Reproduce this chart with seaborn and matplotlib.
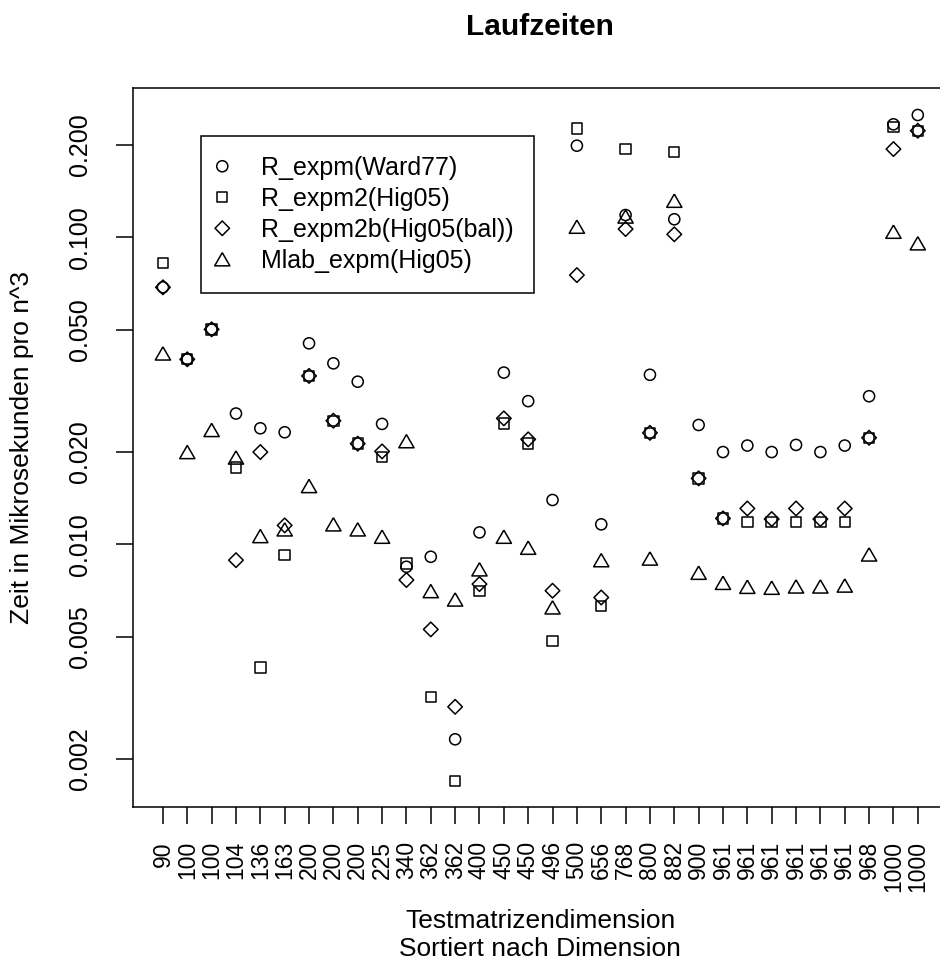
import matplotlib
matplotlib.use('Agg')
import matplotlib.pyplot as plt
import seaborn as sb
import numpy as np
from matplotlib.ticker import NullLocator

# test matrix dimensions (sorted), used as x tick labels
dims = ['90', '100', '100', '104', '136', '163', '200', '200', '200', '225',
        '340', '362', '362', '400', '450', '450', '496', '500', '656', '768',
        '800', '882', '900', '961', '961', '961', '961', '961', '961', '968',
        '1000', '1000']

# run times in microseconds per n^3
r_expm = [0.0688, 0.0401, 0.0502, 0.0267, 0.0239, 0.0232, 0.0452, 0.0389,
          0.0339, 0.0247, 0.00846, 0.00912, 0.00232, 0.01095, 0.0363, 0.0293,
          0.01396, 0.199, 0.01163, 0.1183, 0.0357, 0.1146, 0.0245, 0.0200,
          0.0210, 0.0200, 0.0211, 0.0200, 0.0210, 0.0304, 0.2336, 0.2505]
r_expm2 = [0.0827, 0.0401, 0.0502, 0.0178, 0.00398, 0.00924, 0.0354, 0.0253,
           0.0213, 0.0193, 0.00868, 0.00318, 0.0017, 0.00705, 0.0248, 0.0213,
           0.00485, 0.2267, 0.0063, 0.1937, 0.0231, 0.1902, 0.01642, 0.01216,
           0.01186, 0.01186, 0.01186, 0.01186, 0.01186, 0.02226, 0.2294, 0.2226]
r_expm2b = [0.0688, 0.0401, 0.0502, 0.00889, 0.0200, 0.01154, 0.0354, 0.0253,
            0.0213, 0.0201, 0.00766, 0.00529, 0.00296, 0.00743, 0.02575, 0.0220,
            0.00707, 0.0754, 0.00672, 0.1065, 0.0231, 0.1024, 0.01642, 0.01216,
            0.0131, 0.0121, 0.0131, 0.0121, 0.0131, 0.02226, 0.194, 0.2226]
mlab_expm = [0.0419, 0.0200, 0.0236, 0.0192, 0.01065, 0.0112, 0.0155, 0.01163,
             0.0112, 0.0106, 0.0217, 0.00705, 0.00662, 0.0083, 0.0106, 0.00976,
             0.00624, 0.1084, 0.00889, 0.117, 0.0090, 0.1317, 0.00809, 0.0075,
             0.00728, 0.00723, 0.0073, 0.0073, 0.00735, 0.00928, 0.1044, 0.0957]

labels = ['R_expm(Ward77)', 'R_expm2(Hig05)', 'R_expm2b(Hig05(bal))',
          'Mlab_expm(Hig05)']
yticks = [0.002, 0.005, 0.010, 0.020, 0.050, 0.100, 0.200]

plt.rcParams['font.family'] = ['Liberation Sans', 'DejaVu Sans']

# equilateral triangle like R's pch=2
tri = [(0, 0.5), (-0.577, -0.5), (0.577, -0.5), (0, 0.5)]
series = [(r_expm, 'o', 64), (r_expm2, 's', 56), (r_expm2b, 'D', 55),
          (mlab_expm, tri, 120)]

f = plt.figure(figsize=(9.4, 9.65), dpi=100)
ax = f.add_axes([0.1412, 0.1637, 0.8673, 0.7451])
idx = np.arange(len(dims))
for (vals, m, s), lab in zip(series, labels):
    sb.scatterplot(x=idx, y=vals, marker=m, s=s, facecolor='none',
                   edgecolor='black', linewidth=1.1, label=lab, ax=ax,
                   legend=False)

ax.set_yscale('log')
ax.set_ylim(0.001396, 0.3067)
ax.set_xlim(-1.24, 32.24)
ax.yaxis.set_minor_locator(NullLocator())
ax.set_yticks(yticks)
ax.set_yticklabels(['%.3f' % v for v in yticks], rotation=90, va='center')
ax.set_xticks(idx)
ax.set_xticklabels(dims, rotation=90)
ax.tick_params(axis='both', direction='out', length=12.5, width=1.1,
               color='black', labelsize=18)
ax.tick_params(axis='x', pad=12, labelsize=16.5)
ax.tick_params(axis='y', pad=17)
for sp in ax.spines.values():
    sp.set_linewidth(1.1)
    sp.set_color('black')

ax.set_title('Laufzeiten', fontsize=21.5, fontweight='bold', pad=38.5)
ax.set_xlabel('Testmatrizendimension\nSortiert nach Dimension', fontsize=19,
              linespacing=1.25)
ax.xaxis.set_label_coords(0.5, (807 - 935) / 719.0)
ax.xaxis.label.set_va('center')
ax.set_ylabel('Zeit in Mikrosekunden pro n^3', fontsize=19)
ax.yaxis.set_label_coords((22 - 132.7) / 815.3, 0.5)
ax.yaxis.label.set_va('center')

leg = ax.legend(loc='upper left', bbox_to_anchor=((201 - 132.7) / 815.3, (807 - 136) / 719.0),
                borderaxespad=0, fontsize=18, frameon=True, fancybox=False,
                edgecolor='black', framealpha=1, borderpad=0.8,
                handlelength=0.1, handletextpad=1.5, labelspacing=0.28,
                scatterpoints=1, scatteryoffsets=[0.5])
leg.get_frame().set_linewidth(1.1)

f.savefig('out.png', dpi=100)
